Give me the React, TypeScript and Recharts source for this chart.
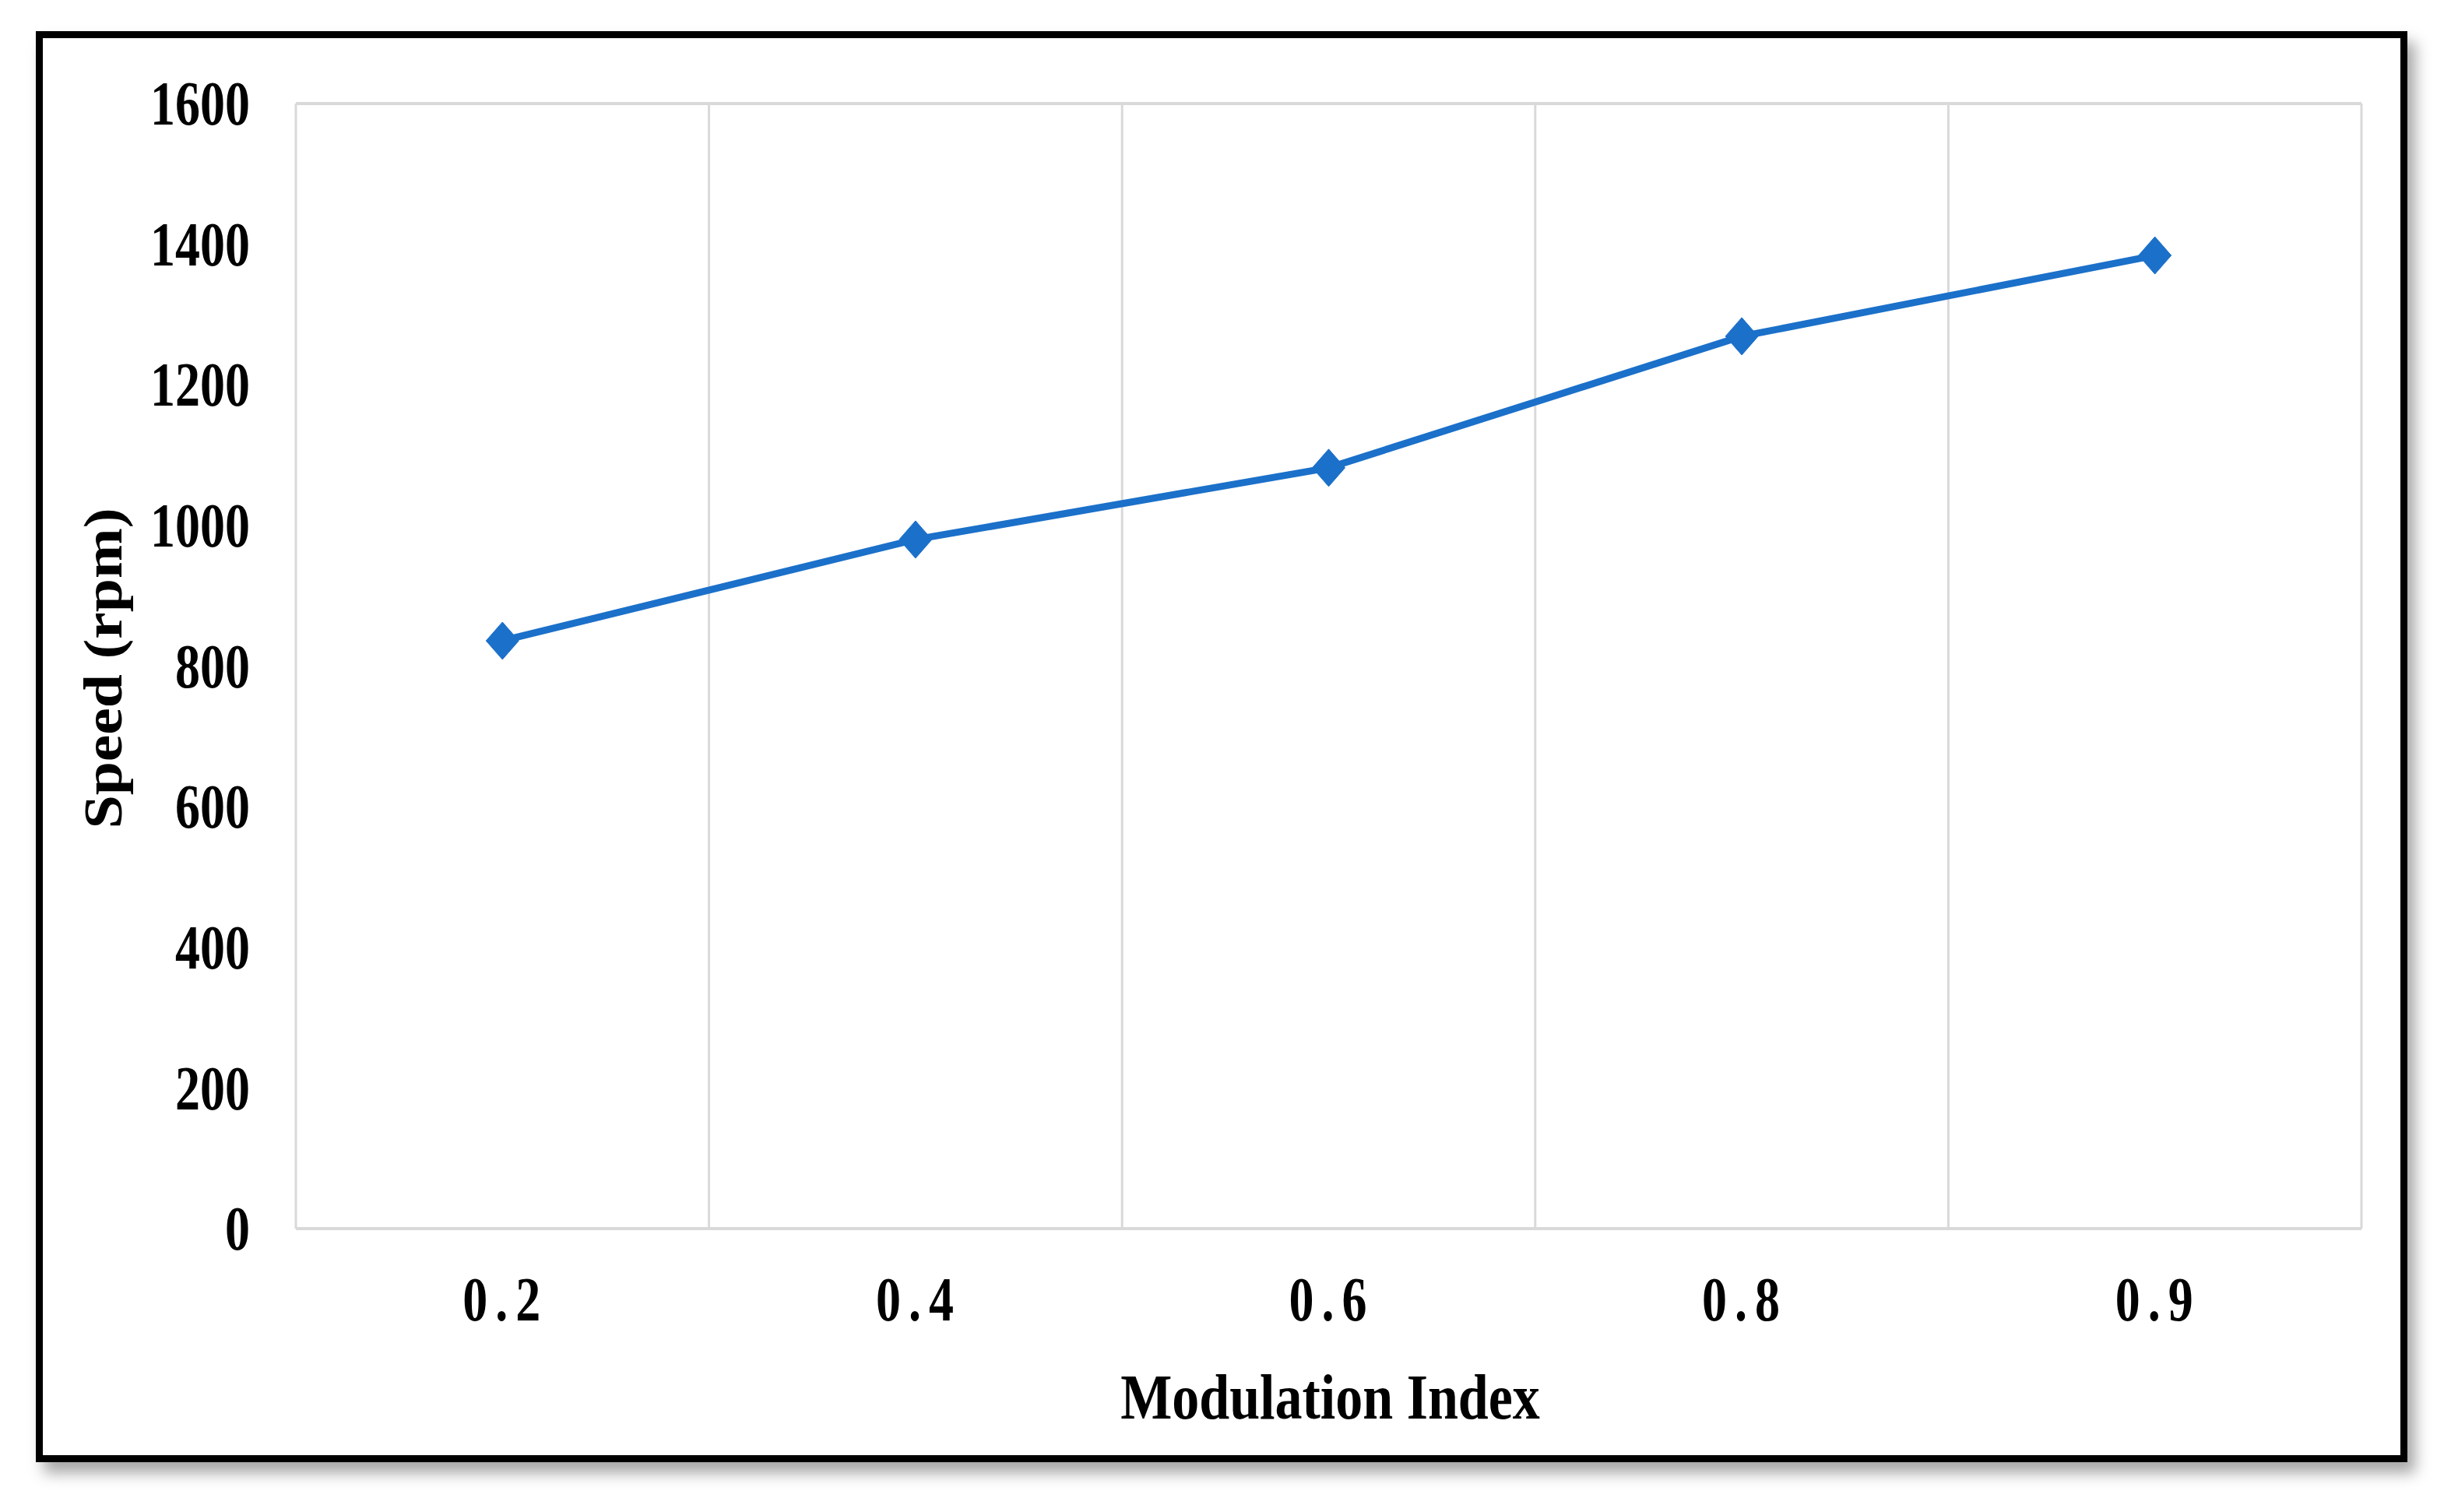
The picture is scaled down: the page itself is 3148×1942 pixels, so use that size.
import React from 'react';
import { LineChart, Line, XAxis, YAxis, ReferenceLine } from 'recharts';

const categories = ['0.2', '0.4', '0.6', '0.8', '0.9'];
const speeds = [836, 980, 1082, 1269, 1384];
const yTicks = [0, 200, 400, 600, 800, 1000, 1200, 1400, 1600];

const data = categories.map((c, i) => ({ mi: c, speed: speeds[i] }));

const FONT = '"Liberation Serif", "Times New Roman", serif';
const BLUE = '#1b70c9';
const GRID = '#d9d9d9';

const YTick = (props: any) => {
  const { x, y, payload } = props;
  return (
    <g transform={`translate(${x - 59},${y}) scale(1,1.27)`}>
      <text
        textAnchor="end"
        dominantBaseline="central"
        fontFamily={FONT}
        fontWeight="bold"
        fontSize={64}
        fill="#000"
      >
        {payload.value}
      </text>
    </g>
  );
};

const XTick = (props: any) => {
  const { x, y, payload } = props;
  return (
    <g transform={`translate(${x + 4},${y + 91}) scale(1,1.25)`}>
      <text
        textAnchor="middle"
        dominantBaseline="central"
        fontFamily={FONT}
        fontWeight="bold"
        fontSize={64}
        letterSpacing={10}
        fill="#000"
      >
        {payload.value}
      </text>
    </g>
  );
};

const XTitle = (props: any) => {
  const vb = props.viewBox || {};
  const cx = vb.x + vb.width / 2 + 2;
  const by = vb.y + 244;
  return (
    <g transform={`translate(${cx},${by}) scale(1,1.17)`}>
      <text textAnchor="middle" fontFamily={FONT} fontWeight="bold" fontSize={70} fill="#000">
        Modulation Index
      </text>
    </g>
  );
};

const YTitle = (props: any) => {
  const vb = props.viewBox || {};
  const cy = vb.y + vb.height / 2 + 3;
  return (
    <g transform={`translate(156,${cy}) rotate(-90) scale(1.11,1)`}>
      <text textAnchor="middle" fontFamily={FONT} fontWeight="bold" fontSize={70} fill="#000">
        Speed (rpm)
      </text>
    </g>
  );
};

const Diamond = (props: any) => {
  const { cx, cy, index } = props;
  if (cx == null || cy == null) return <g key={index} />;
  const w = 21;
  const h = 24;
  return (
    <polygon
      key={index}
      points={`${cx},${cy - h} ${cx + w},${cy} ${cx},${cy + h} ${cx - w},${cy}`}
      fill={BLUE}
      stroke={BLUE}
      strokeWidth={1}
    />
  );
};

export default function App() {
  const last = categories[categories.length - 1];
  return (
    <div style={{ position: 'absolute', left: 0, top: 0, width: 3148, height: 1942, background: '#fff' }}>
      <div
        style={{
          position: 'absolute',
          left: 46,
          top: 40,
          width: 3046,
          height: 1838,
          boxSizing: 'border-box',
          border: '9px solid #000',
          boxShadow: '10px 14px 18px rgba(0,0,0,0.35)',
          background: '#fff',
        }}
      />
      <div style={{ position: 'absolute', left: 0, top: 0 }}>
        <LineChart width={3148} height={1942} data={data} margin={{ top: 133, right: 115, left: 0, bottom: 0 }}>
          <XAxis
            dataKey="mi"
            scale="band"
            height={364}
            axisLine={{ stroke: GRID, strokeWidth: 4 }}
            tickLine={false}
            tickSize={0}
            tickMargin={0}
            interval={0}
            tick={<XTick />}
            label={<XTitle />}
          />
          <YAxis
            width={380}
            domain={[0, 1600]}
            ticks={yTicks}
            interval={0}
            axisLine={false}
            tickLine={false}
            tickSize={0}
            tickMargin={0}
            tick={<YTick />}
            label={<YTitle />}
          />
          {categories.map((c) => (
            <ReferenceLine key={`s${c}`} x={c} position="start" stroke={GRID} strokeWidth={3} />
          ))}
          <ReferenceLine x={last} position="end" stroke={GRID} strokeWidth={3} />
          <ReferenceLine y={1600} stroke={GRID} strokeWidth={4} />
          <Line
            type="linear"
            dataKey="speed"
            stroke={BLUE}
            strokeWidth={9}
            dot={<Diamond />}
            activeDot={false}
            isAnimationActive={false}
          />
        </LineChart>
      </div>
    </div>
  );
}
